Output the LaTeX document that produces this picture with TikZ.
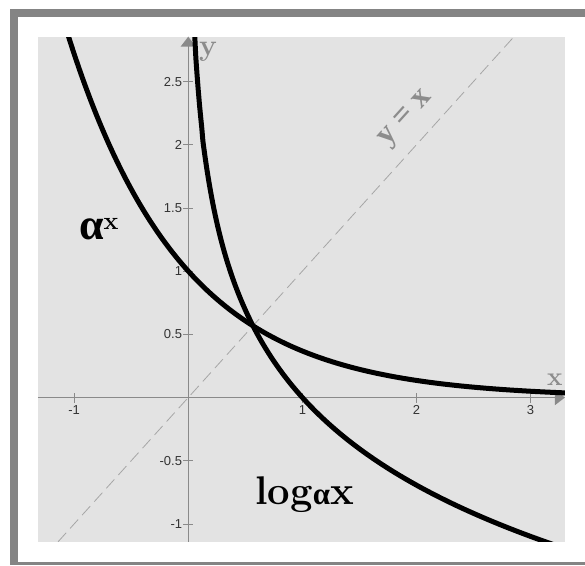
\documentclass[tikz,border=0pt]{standalone}
\usepackage{fontspec}
\usepackage{tikz}
\usetikzlibrary{arrows.meta}
\newfontfamily\numfont{Liberation Sans}
\newfontfamily\greekfont{Liberation Serif}
\definecolor{framegray}{HTML}{848484}
\definecolor{plotbg}{HTML}{E3E3E3}
\definecolor{axisgray}{HTML}{8A8A8A}
\definecolor{dashgray}{HTML}{A6A6A6}
\definecolor{labelgray}{HTML}{8C8C8C}
\definecolor{numgray}{HTML}{333333}
\tikzset{ticknum/.style={inner sep=0pt,text=numgray,font=\numfont\fontsize{13}{13}\selectfont}}
\newcommand{\xmark}[3]{\draw[axisgray,line width=0.8pt] (#1,0)++(0,-5pt)--++(0,10pt);\node[ticknum,anchor=north] (#3) at ([yshift=-8pt]#1,0) {#2};}
\newcommand{\ymark}[3]{\draw[axisgray,line width=0.8pt] (0,#1)++(-5pt,0)--++(10pt,0);\node[ticknum,anchor=east] (#3) at ([xshift=-6pt]0,#1) {#2};}

\begin{document}
\begin{tikzpicture}[x=114.1pt,y=126.4pt]
\useasboundingbox[fill=white] (-1.650,-1.325) rectangle (3.477,3.145);
% frame and plot area
\fill[framegray] (-1.5627,-1.325) rectangle (3.477,3.0736);
\fill[white] (-1.4925,-1.3014) rectangle (3.477,3.0103);
\fill[plotbg] (-1.317,-1.141) rectangle (3.301,2.852);
% axes
\draw[axisgray,line width=1.5pt,-{Triangle[length=10pt,width=15pt]}] (-1.317,0)--(3.301,0);
\draw[axisgray,line width=1.5pt,-{Triangle[length=10pt,width=15pt]}] (0,-1.141)--(0,2.855);
\xmark{-1}{-1}{xm1}\xmark{1}{1}{x1}\xmark{2}{2}{x2}\xmark{3}{3}{x3}
\ymark{2.5}{2.5}{y25}\ymark{2}{2}{y2}\ymark{1.5}{1.5}{y15}\ymark{1}{1}{y1}
\ymark{0.5}{0.5}{y05}\ymark{-0.5}{-0.5}{ym05}\ymark{-1}{-1}{ym1}
% curves
\begin{scope}
\clip (-1.317,-1.141) rectangle (3.301,2.852);
\draw[dashgray,line width=0.8pt,dash pattern=on 12pt off 6pt] (-1.141,-1.141)--(2.852,2.852);
\draw[black,line width=5pt] plot[domain=-1.1:3.35,samples=150,smooth] (\x,{exp(-\x)});
\draw[black,line width=5pt] plot[domain=0.055:3.2,samples=300,smooth] (\x,{-ln(\x)});
\end{scope}
% labels
\node[text=labelgray,inner sep=0pt,anchor=base west,font=\fontsize{30}{30}\selectfont\bfseries] (ylab) at (0.094,2.702) {y};
\node[text=labelgray,inner sep=0pt,anchor=base west,font=\fontsize{26}{26}\selectfont\bfseries] (xlab) at (3.144,0.099) {x};
\node[text=labelgray,inner sep=0pt,rotate=48,font=\greekfont\fontsize{32}{32}\selectfont\bfseries] (diag) at (1.917,2.203) {y = x};
\node[inner sep=0pt,anchor=base west,font=\bfseries] (expl) at (-0.958,1.254) {{\greekfont\fontsize{44}{44}\selectfont α}\raisebox{10pt}{\fontsize{25}{25}\selectfont x}};
\node[inner sep=0pt,anchor=base west,font=\fontsize{40}{40}\selectfont\bfseries] (logl) at (0.585,-0.850) {log{\greekfont\fontsize{31}{31}\selectfont α}x};
\end{tikzpicture}
\end{document}
